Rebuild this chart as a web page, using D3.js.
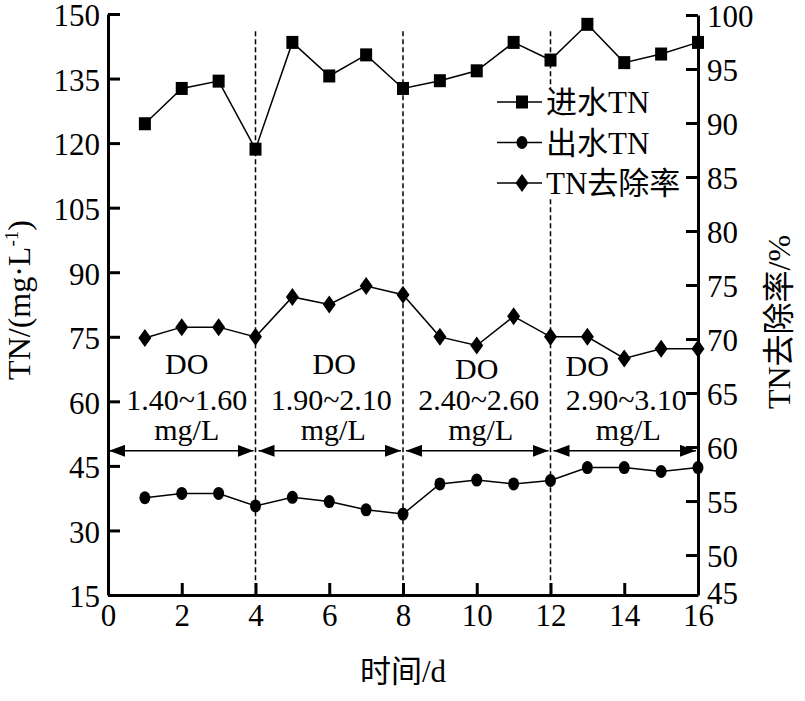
<!DOCTYPE html>
<html>
<head>
<meta charset="utf-8">
<script src="https://cdn.jsdelivr.net/npm/d3@7"></script>
<style>
  body { margin: 0; background: #fff; }
  text { font-family: "Liberation Serif", "Times New Roman", "Noto Sans CJK SC", serif; fill: #000; }
</style>
</head>
<body>
<div id="chart"></div>
<script>
// days on the x axis
var days = [1, 2, 3, 4, 5, 6, 7, 8, 9, 10, 11, 12, 13, 14, 15, 16];
// influent / effluent TN (mg/L), removal rate (%)
var influentTN = [124.5, 132.7, 134.4, 118.6, 143.4, 135.6, 140.5, 132.7, 134.5, 136.8, 143.4, 139.3, 147.6, 138.7, 140.7, 143.4];
var effluentTN = [37.6, 38.6, 38.6, 35.7, 37.7, 36.7, 34.8, 33.8, 40.8, 41.7, 40.8, 41.6, 44.6, 44.6, 43.7, 44.6];
var removalRate = [70.1, 71.1, 71.1, 70.2, 73.9, 73.2, 74.9, 74.1, 70.2, 69.4, 72.1, 70.2, 70.2, 68.2, 69.1, 69.1];

var xTicks = [0, 2, 4, 6, 8, 10, 12, 14, 16];
var leftTicks = [15, 30, 45, 60, 75, 90, 105, 120, 135, 150];
var rightTicks = [50, 55, 60, 65, 70, 75, 80, 85, 90, 95, 100];

// DO stages
var stageBounds = [[0, 4], [4, 8], [8, 12], [12, 16]];
var stageRanges = ["1.40~1.60", "1.90~2.10", "2.40~2.60", "2.90~3.10"];
var dividers = [4, 8, 12];

var legendNames = ["进水TN", "出水TN", "TN去除率"];

var width = 805, height = 701;

var svg = d3.select("#chart").append("svg")
    .attr("width", width)
    .attr("height", height);

var x = d3.scaleLinear().domain([0, 16]).range([108, 698]);
var yL = d3.scaleLinear().domain([15, 150]).range([595, 14]);
// right axis: 100 at top, 50 near bottom, bottom end labelled 45
var yR = d3.scaleLinear().domain([46.3, 100]).range([595, 15]);

//dashed dividers
svg.selectAll(".divider")
    .data(dividers)
    .enter()
    .append("line")
    .attr("class", "divider")
    .attr("x1", function (d) { return x(d); })
    .attr("x2", function (d) { return x(d); })
    .attr("y1", yL(146))
    .attr("y2", yL(15))
    .attr("stroke", "#000")
    .attr("stroke-width", 1.5)
    .attr("stroke-dasharray", "5,3");

// arrow markers
var defs = svg.append("defs");
defs.append("marker")
    .attr("id", "arrEnd")
    .attr("viewBox", "0 0 16 12")
    .attr("refX", 16).attr("refY", 6)
    .attr("markerWidth", 16).attr("markerHeight", 12)
    .attr("markerUnits", "userSpaceOnUse")
    .attr("orient", "auto")
    .append("path").attr("d", "M0,0L16,6L0,12Z").attr("fill", "#000");
defs.append("marker")
    .attr("id", "arrStart")
    .attr("viewBox", "0 0 16 12")
    .attr("refX", 0).attr("refY", 6)
    .attr("markerWidth", 16).attr("markerHeight", 12)
    .attr("markerUnits", "userSpaceOnUse")
    .attr("orient", "auto")
    .append("path").attr("d", "M16,0L0,6L16,12Z").attr("fill", "#000");

svg.selectAll(".stageArrow")
    .data(stageBounds)
    .enter()
    .append("line")
    .attr("class", "stageArrow")
    .attr("x1", function (d, i) { return x(d[0]) + (i === 0 ? 1 : 3); })
    .attr("x2", function (d) { return x(d[1]) - 2; })
    .attr("y1", yL(48.5))
    .attr("y2", yL(48.5))
    .attr("stroke", "#000")
    .attr("stroke-width", 1.5)
    .attr("marker-start", "url(#arrStart)")
    .attr("marker-end", "url(#arrEnd)");

// stage texts
var doOffsets = [[5, 374], [5, 374], [0, 379], [-37, 376]];
var stage = svg.selectAll(".stage")
    .data(stageBounds)
    .enter()
    .append("g")
    .attr("class", "stage");
stage.append("text")
    .attr("x", function (d, i) { return (x(d[0]) + x(d[1])) / 2 + doOffsets[i][0]; })
    .attr("y", function (d, i) { return doOffsets[i][1]; })
    .attr("text-anchor", "middle")
    .attr("font-size", "30px")
    .text("DO");
stage.append("text")
    .attr("x", function (d, i) { return (x(d[0]) + x(d[1])) / 2 + (i === 0 ? 5 : 2); })
    .attr("y", 410)
    .attr("text-anchor", "middle")
    .attr("font-size", "30px")
    .text(function (d, i) { return stageRanges[i]; });
stage.append("text")
    .attr("x", function (d, i) { return (x(d[0]) + x(d[1])) / 2 + (i === 0 ? 5 : 4); })
    .attr("y", 440)
    .attr("text-anchor", "middle")
    .attr("font-size", "30px")
    .text("mg/L");

// series lines
var lineL = d3.line()
    .x(function (d, i) { return x(days[i]); })
    .y(function (d) { return yL(d); });
var lineR = d3.line()
    .x(function (d, i) { return x(days[i]); })
    .y(function (d) { return yR(d); });

svg.append("path").attr("d", lineL(influentTN)).attr("fill", "none").attr("stroke", "#000").attr("stroke-width", 1.5);
svg.append("path").attr("d", lineL(effluentTN)).attr("fill", "none").attr("stroke", "#000").attr("stroke-width", 1.5);
svg.append("path").attr("d", lineR(removalRate)).attr("fill", "none").attr("stroke", "#000").attr("stroke-width", 1.5);

// markers
function square(g, cx, cy) {
    g.append("rect").attr("x", cx - 6).attr("y", cy - 6.5).attr("width", 12).attr("height", 13).attr("fill", "#000");
}
function dot(g, cx, cy) {
    g.append("ellipse").attr("cx", cx).attr("cy", cy).attr("rx", 5.5).attr("ry", 6.5).attr("fill", "#000");
}
function diamond(g, cx, cy) {
    g.append("path")
        .attr("d", "M" + cx + "," + (cy - 9) + "L" + (cx + 6.5) + "," + cy + "L" + cx + "," + (cy + 9) + "L" + (cx - 6.5) + "," + cy + "Z")
        .attr("fill", "#000");
}

var marks = svg.append("g");
influentTN.forEach(function (v, i) { square(marks, x(days[i]), yL(v)); });
effluentTN.forEach(function (v, i) { dot(marks, x(days[i]), yL(v)); });
removalRate.forEach(function (v, i) { diamond(marks, x(days[i]), yR(v)); });

// legend
var legend = svg.append("g");
legend.append("rect")
    .attr("x", 493).attr("y", 88)
    .attr("width", 200).attr("height", 109)
    .attr("fill", "#fff");
var markFns = [square, dot, diamond];
legendNames.forEach(function (name, i) {
    var ly = 102 + i * 40.5;
    legend.append("line")
        .attr("x1", 497).attr("x2", 542)
        .attr("y1", ly).attr("y2", ly)
        .attr("stroke", "#000").attr("stroke-width", 1.5);
    markFns[i](legend, 522, ly);
    legend.append("text")
        .attr("x", 546).attr("y", ly + 11)
        .attr("font-size", "31px")
        .text(name);
});

// axes
function styleAxis(g) {
    g.select(".domain").attr("stroke-width", 3);
    g.selectAll(".tick line").attr("stroke-width", 3);
    g.selectAll(".tick text")
        .attr("font-size", "31px")
        .attr("font-family", "Liberation Serif, Times New Roman, serif");
}

var gx = svg.append("g")
    .attr("transform", "translate(0," + yL(15) + ")")
    .call(d3.axisBottom(x).tickValues(xTicks).tickSizeInner(-12).tickSizeOuter(0).tickPadding(9));
styleAxis(gx);

var gl = svg.append("g")
    .attr("transform", "translate(" + x(0) + ",0)")
    .call(d3.axisLeft(yL).tickValues(leftTicks).tickSizeInner(-12).tickSizeOuter(0).tickPadding(8));
styleAxis(gl);
gl.selectAll(".tick text").attr("dy", "0.38em");

var gr = svg.append("g")
    .attr("transform", "translate(" + x(16) + ",0)")
    .call(d3.axisRight(yR).tickValues(rightTicks).tickSizeInner(-12).tickSizeOuter(0).tickPadding(9));
styleAxis(gr);
gr.selectAll(".tick text").attr("dy", "0.36em");
// bottom end of right axis carries the label 45
gr.append("text")
    .attr("x", 9).attr("y", yR(46.3) - 2)
    .attr("dy", "0.36em")
    .attr("font-size", "31px")
    .attr("fill", "#000")
    .text("45");

// axis titles
svg.append("text")
    .attr("x", x(8)).attr("y", 682)
    .attr("text-anchor", "middle")
    .attr("font-size", "31px")
    .text("时间/d");

var lt = svg.append("text")
    .attr("transform", "translate(30,300) rotate(-90)")
    .attr("text-anchor", "middle")
    .attr("font-size", "32px");
lt.append("tspan").text("TN/(mg·L");
lt.append("tspan").attr("font-size", "19px").attr("dy", "-12").text("-1");
lt.append("tspan").attr("dy", "12").text(")");

svg.append("text")
    .attr("transform", "translate(790,322) rotate(-90)")
    .attr("text-anchor", "middle")
    .attr("font-size", "32px")
    .text("TN去除率/%");
</script>
</body>
</html>
